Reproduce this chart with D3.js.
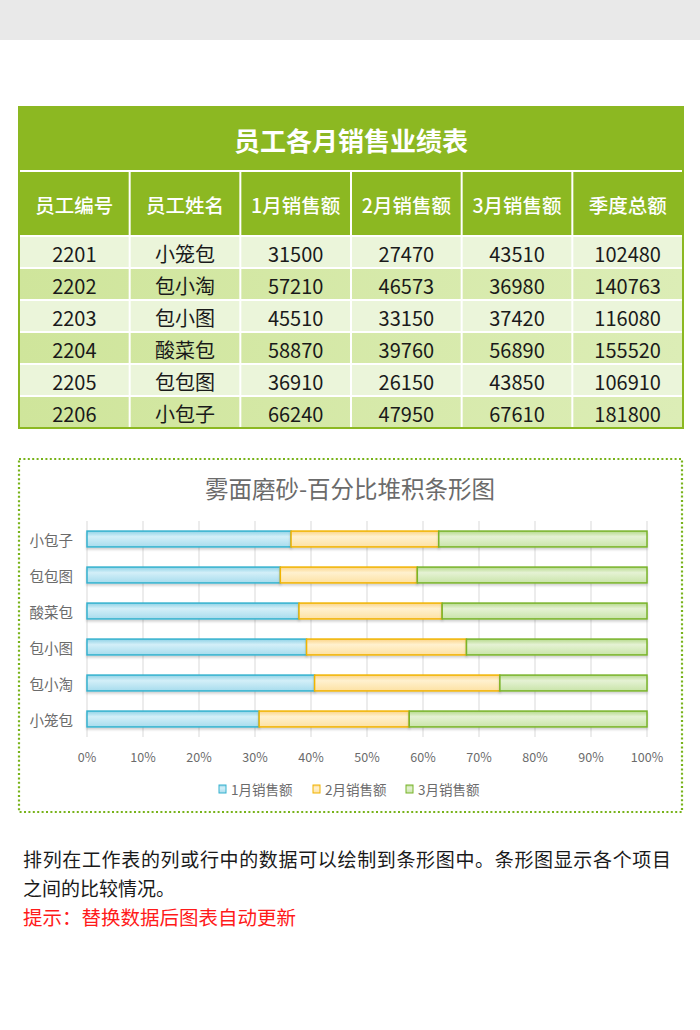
<!DOCTYPE html>
<html><head><meta charset="utf-8">
<script src="https://cdn.jsdelivr.net/npm/d3@7"></script>
<style>
html,body{margin:0;padding:0;background:#fff;}
svg{display:block;}
text{font-family:"Noto Sans CJK SC","Noto Sans",sans-serif;}
</style></head>
<body>
<svg id="c" width="700" height="1030"></svg>
<script>
const tableTitle = "员工各月销售业绩表";
const headers = ["员工编号","员工姓名","1月销售额","2月销售额","3月销售额","季度总额"];
const ids = ["2201","2202","2203","2204","2205","2206"];
const names = ["小笼包","包小淘","包小图","酸菜包","包包图","小包子"];
const jan = [31500,57210,45510,58870,36910,66240];
const feb = [27470,46573,33150,39760,26150,47950];
const mar = [43510,36980,37420,56890,43850,67610];
const totals = [102480,140763,116080,155520,106910,181800];
const seriesNames = ["1月销售额","2月销售额","3月销售额"];
const chartTitle = "雾面磨砂-百分比堆积条形图";
const ticks = [0,0.1,0.2,0.3,0.4,0.5,0.6,0.7,0.8,0.9,1];
const note1 = "排列在工作表的列或行中的数据可以绘制到条形图中。条形图显示各个项目";
const note2 = "之间的比较情况。";
const note3 = "提示：替换数据后图表自动更新";

const svg = d3.select("#c");
const defs = svg.append("defs");

// top gray band
svg.append("rect").attr("x",0).attr("y",0).attr("width",700).attr("height",40).attr("fill","#e9e9e9");

// ---------- TABLE ----------
const green = "#8cb822";
const colX = d3.scaleLinear().domain([0,6]).range([19,683]);
const rowY = d3.scaleLinear().domain([0,6]).range([236,428]);
const T = svg.append("g");

const gRow = defs.append("linearGradient").attr("id","rowDark").attr("x1","0").attr("x2","1").attr("y1","0").attr("y2","0");
gRow.append("stop").attr("offset","0%").attr("stop-color","#cfe59b");
gRow.append("stop").attr("offset","100%").attr("stop-color","#dcedb6");

T.append("rect").attr("x",colX(0)).attr("y",107).attr("width",colX(6)-colX(0)).attr("height",129).attr("fill",green);
ids.forEach((d,i)=>{
  T.append("rect").attr("x",colX(0)).attr("y",rowY(i)).attr("width",colX(6)-colX(0)).attr("height",rowY(i+1)-rowY(i))
    .attr("fill", i%2===0 ? "#ebf5da" : "url(#rowDark)");
});
// white separators
T.append("line").attr("x1",colX(0)).attr("x2",colX(6)).attr("y1",171).attr("y2",171).attr("stroke","#fff").attr("stroke-width",2);
for(let i=0;i<6;i++){
  T.append("line").attr("x1",colX(0)).attr("x2",colX(6)).attr("y1",rowY(i)).attr("y2",rowY(i)).attr("stroke","#fff").attr("stroke-width",2);
}
for(let j=1;j<6;j++){
  T.append("line").attr("x1",colX(j)).attr("x2",colX(j)).attr("y1",172).attr("y2",427).attr("stroke","#fff").attr("stroke-width",2);
}
// outer border
T.append("rect").attr("x",colX(0)).attr("y",107).attr("width",colX(6)-colX(0)).attr("height",321)
  .attr("fill","none").attr("stroke",green).attr("stroke-width",2);

T.append("text").attr("x",(colX(0)+colX(6))/2).attr("y",139).attr("text-anchor","middle").attr("dominant-baseline","central")
  .attr("fill","#fff").attr("font-size",26).attr("font-weight","bold").text(tableTitle);
headers.forEach((h,j)=>{
  T.append("text").attr("x",(colX(j)+colX(j+1))/2).attr("y",204).attr("text-anchor","middle").attr("dominant-baseline","central")
    .attr("fill","#fff").attr("font-size",19.5).attr("font-weight",500).text(h);
});
ids.forEach((id,i)=>{
  const vals=[id,names[i],jan[i],feb[i],mar[i],totals[i]];
  vals.forEach((v,j)=>{
    T.append("text").attr("x",(colX(j)+colX(j+1))/2).attr("y",(rowY(i)+rowY(i+1))/2+1).attr("text-anchor","middle")
      .attr("dominant-baseline","central").attr("fill","#1a1a1a").attr("font-size",20).text(v);
  });
});

// ---------- CHART ----------
svg.append("rect").attr("x",19).attr("y",459).attr("width",663).attr("height",353)
  .attr("fill","#fff").attr("stroke","#78b31a").attr("stroke-width",2.2).attr("stroke-dasharray","2 2.4");

svg.append("text").attr("x",350).attr("y",488).attr("text-anchor","middle").attr("dominant-baseline","central")
  .attr("fill","#6b6b6b").attr("font-size",23.5).text(chartTitle);

const x = d3.scaleLinear().domain([0,1]).range([87,647]);
const order = names.slice().reverse();
const y = d3.scaleBand().domain(order).range([521,737]).paddingInner(0.56).paddingOuter(0.28);

const G = svg.append("g");
G.selectAll("line.grid").data(ticks).join("line").attr("class","grid")
  .attr("x1",d=>x(d)).attr("x2",d=>x(d)).attr("y1",521).attr("y2",737)
  .attr("stroke","#d9d9d9").attr("stroke-width",1);

G.selectAll("text.tick").data(ticks).join("text").attr("class","tick")
  .attr("x",d=>x(d)).attr("y",756).attr("text-anchor","middle").attr("dominant-baseline","central")
  .attr("fill","#6b6b6b").attr("font-size",12.5).text(d=>d3.format(".0%")(d));

G.selectAll("text.cat").data(order).join("text").attr("class","cat")
  .attr("x",73).attr("y",d=>y(d)+y.bandwidth()/2).attr("text-anchor","end").attr("dominant-baseline","central")
  .attr("fill","#6b6b6b").attr("font-size",14.5).text(d=>d);

const rows = names.map((n,i)=>({name:n, s0:jan[i], s1:feb[i], s2:mar[i]}));
const stack = d3.stack().keys(["s0","s1","s2"]).offset(d3.stackOffsetExpand);
const stacked = stack(rows);

const pal = [
  {stroke:"#36b2cf", a:"#8fd2e6", b:"#d3eff8", c:"#a7dced"},
  {stroke:"#f1b400", a:"#fbd487", b:"#fff1cf", c:"#fde1a3"},
  {stroke:"#79b42a", a:"#b5d98b", b:"#e5f2d4", c:"#c9e4a9"}
];
pal.forEach((p,k)=>{
  const g = defs.append("linearGradient").attr("id","bar"+k).attr("x1","0").attr("x2","0").attr("y1","0").attr("y2","1");
  g.append("stop").attr("offset","0%").attr("stop-color",p.a);
  g.append("stop").attr("offset","35%").attr("stop-color",p.b);
  g.append("stop").attr("offset","100%").attr("stop-color",p.c);
});
const sh = defs.append("filter").attr("id","sh").attr("x","-5%").attr("y","-30%").attr("width","110%").attr("height","180%");
sh.append("feDropShadow").attr("dx",0).attr("dy",2).attr("stdDeviation",1.2).attr("flood-color","#000").attr("flood-opacity",0.18);

stacked.forEach((ser,k)=>{
  G.append("g").attr("filter","url(#sh)").selectAll("rect").data(ser).join("rect")
    .attr("x",d=>x(d[0])).attr("width",d=>x(d[1])-x(d[0]))
    .attr("y",d=>y(d.data.name)).attr("height",y.bandwidth())
    .attr("fill","url(#bar"+k+")").attr("stroke",pal[k].stroke).attr("stroke-width",1.5);
});

// legend
const legX = [223,317,410];
seriesNames.forEach((s,k)=>{
  G.append("rect").attr("x",legX[k]-4).attr("y",785).attr("width",7).attr("height",8)
    .attr("fill","url(#bar"+k+")").attr("stroke",pal[k].stroke).attr("stroke-width",1);
  G.append("text").attr("x",legX[k]+8).attr("y",789).attr("dominant-baseline","central")
    .attr("fill","#6b6b6b").attr("font-size",13.5).text(s);
});

// ---------- NOTES ----------
svg.append("text").attr("x",23).attr("y",858).attr("dominant-baseline","central").attr("fill","#1a1a1a").attr("font-size",19).attr("textLength",648).text(note1);
svg.append("text").attr("x",23).attr("y",887).attr("dominant-baseline","central").attr("fill","#1a1a1a").attr("font-size",19).text(note2);
svg.append("text").attr("x",23).attr("y",916).attr("dominant-baseline","central").attr("fill","#ff1a1a").attr("font-size",19.5).text(note3);
</script>
</body></html>
